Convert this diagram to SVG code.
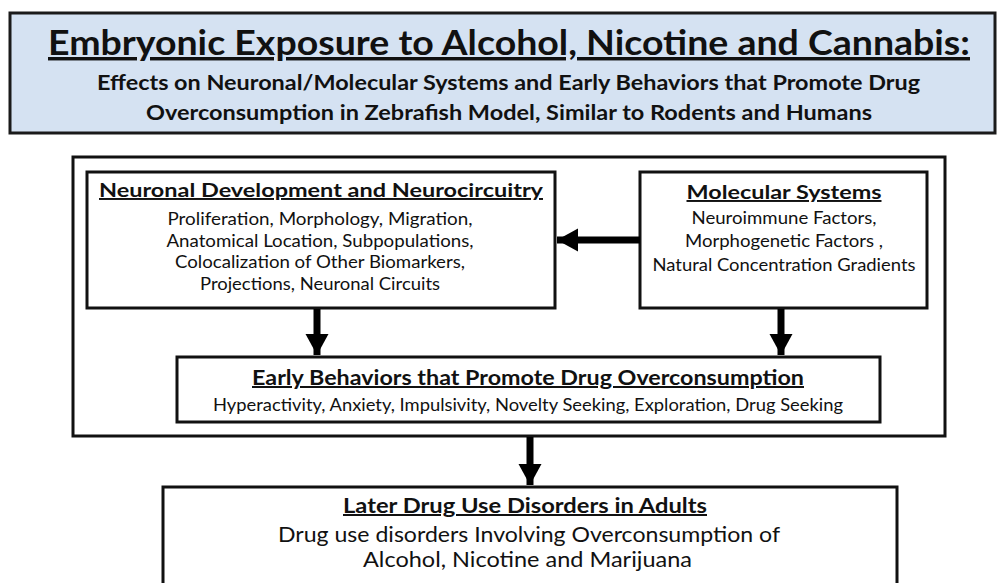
<svg xmlns="http://www.w3.org/2000/svg" width="997" height="583" viewBox="0 0 997 583">
<defs>
<style>
text{font-family:Lato,"Open Sans","Liberation Sans",sans-serif;fill:#111;text-anchor:middle}
.b{font-weight:bold}
.u{text-decoration:underline}
.box{fill:#fff;stroke:#111;stroke-width:3}
.conn line{stroke:#000;stroke-width:7}
</style>
<marker id="ah" markerUnits="userSpaceOnUse" markerWidth="24" markerHeight="26" refX="21" refY="12" orient="auto">
<polygon points="0,0.5 21,12 0,23.5" fill="#000"/>
</marker>
</defs>
<rect width="997" height="583" fill="#fff"/>
<g id="title">
<rect x="10" y="13" width="985" height="120" fill="#d5e2f2" stroke="#1a1a1a" stroke-width="3"/>
<text x="509" y="55" class="b u" font-size="34.5" textLength="922" lengthAdjust="spacingAndGlyphs">Embryonic Exposure to Alcohol, Nicotine and Cannabis:</text>
<text x="508.5" y="90" class="b" font-size="21" textLength="823" lengthAdjust="spacingAndGlyphs">Effects on Neuronal/Molecular Systems and Early Behaviors that Promote Drug</text>
<text x="509" y="120" class="b" font-size="21" textLength="726" lengthAdjust="spacingAndGlyphs">Overconsumption in Zebrafish Model, Similar to Rodents and Humans</text>
</g>
<g id="frame">
<rect x="73" y="157" width="872" height="279" class="box"/>
</g>
<g id="neuronal">
<rect x="87" y="172" width="468" height="136" class="box"/>
<text x="321" y="197" class="b u" font-size="19.5" textLength="444" lengthAdjust="spacingAndGlyphs">Neuronal Development and Neurocircuitry</text>
<text x="320" y="225" font-size="17.5" textLength="305" lengthAdjust="spacingAndGlyphs">Proliferation, Morphology, Migration,</text>
<text x="320" y="247" font-size="17.5" textLength="307" lengthAdjust="spacingAndGlyphs">Anatomical Location, Subpopulations,</text>
<text x="320" y="268" font-size="17.5" textLength="290" lengthAdjust="spacingAndGlyphs">Colocalization of Other Biomarkers,</text>
<text x="320" y="290" font-size="17.5" textLength="240" lengthAdjust="spacingAndGlyphs">Projections, Neuronal Circuits</text>
</g>
<g id="molecular">
<rect x="640" y="172" width="287" height="136" class="box"/>
<text x="784" y="199" class="b u" font-size="19.5" textLength="195" lengthAdjust="spacingAndGlyphs">Molecular Systems</text>
<text x="784" y="224" font-size="17.5" textLength="185" lengthAdjust="spacingAndGlyphs">Neuroimmune Factors,</text>
<text x="784" y="247" font-size="17.5" textLength="198" lengthAdjust="spacingAndGlyphs">Morphogenetic Factors ,</text>
<text x="784" y="271" font-size="17.5" textLength="263" lengthAdjust="spacingAndGlyphs">Natural Concentration Gradients</text>
</g>
<g id="early">
<rect x="177" y="357" width="703" height="65" class="box"/>
<text x="528" y="385" class="b u" font-size="20" textLength="552" lengthAdjust="spacingAndGlyphs">Early Behaviors that Promote Drug Overconsumption</text>
<text x="528" y="411" font-size="17" textLength="630" lengthAdjust="spacingAndGlyphs">Hyperactivity, Anxiety, Impulsivity, Novelty Seeking, Exploration, Drug Seeking</text>
</g>
<g id="later">
<rect x="163" y="487" width="734" height="110" class="box"/>
<text x="525" y="513" class="b u" font-size="20" textLength="364" lengthAdjust="spacingAndGlyphs">Later Drug Use Disorders in Adults</text>
<text x="529" y="542" font-size="20.5" textLength="502" lengthAdjust="spacingAndGlyphs">Drug use disorders Involving Overconsumption of</text>
<text x="527.5" y="567" font-size="20.5" textLength="329" lengthAdjust="spacingAndGlyphs">Alcohol, Nicotine and Marijuana</text>
</g>
<g id="connectors" class="conn">
<line x1="640" y1="240" x2="557" y2="240" marker-end="url(#ah)"/>
<line x1="317" y1="309" x2="317" y2="355" marker-end="url(#ah)"/>
<line x1="781" y1="309" x2="781" y2="355" marker-end="url(#ah)"/>
<line x1="530" y1="437" x2="530" y2="485" marker-end="url(#ah)"/>
</g>
</svg>
